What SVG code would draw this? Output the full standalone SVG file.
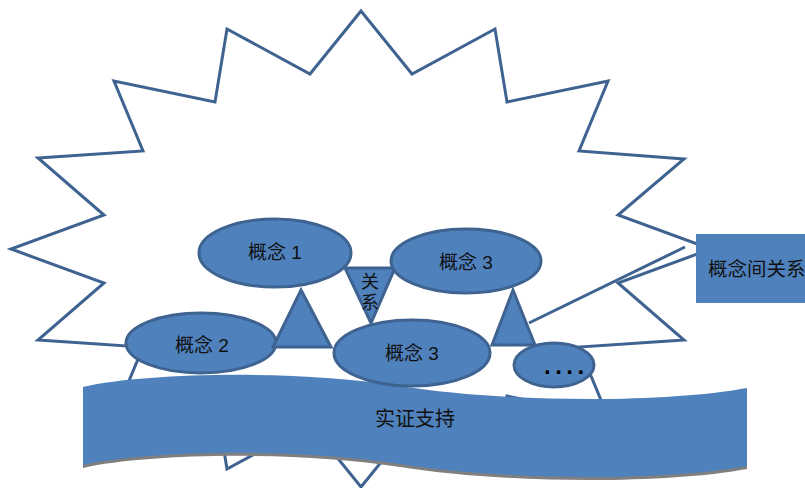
<svg xmlns="http://www.w3.org/2000/svg" width="805" height="488" viewBox="0 0 805 488">
<style>
.shape{fill:#4F81BD;stroke:#3F6391;stroke-width:3}
.line{fill:none;stroke:#3F6391;stroke-width:3}
.t{font-family:"Liberation Sans","Noto Sans CJK SC",sans-serif;font-size:19px;fill:#111;text-anchor:middle;dominant-baseline:central}
</style>
<rect width="805" height="488" fill="#fff"/>
<g id="star">
<polygon fill="#fff" stroke="#3F6391" stroke-width="3" stroke-linejoin="miter" points="361,11 412,74 495,29 507,102 608,81 579,151 684,159 618,215 711,249 618,283 684,340 579,347 608,417 507,396 495,469 412,424 361,487 310,424 227,469 215,396 114,417 143,347 38,340 104,283 11,249 104,215 38,158 143,151 114,81 215,102 227,29 310,74"/>
</g>
<g id="connectors">
<line class="line" x1="685" y1="247" x2="529" y2="323"/>
</g>
<g id="banner">
<path transform="translate(0,3)" fill="#7F7F7F" d="M83,387 C150,372 300,370 400,386 C500,402 660,404 747,388 L747,466 C660,482 500,480 400,464 C300,448 150,450 83,465 Z"/>
<path fill="#4F81BD" d="M83,387 C150,372 300,370 400,386 C500,402 660,404 747,388 L747,466 C660,482 500,480 400,464 C300,448 150,450 83,465 Z"/>
<text class="t" x="415" y="419" style="font-size:20px">实证支持</text>
</g>
<g id="concept2">
<ellipse class="shape" cx="201" cy="343" rx="75" ry="30"/>
<text class="t" x="202" y="345">概念 2</text>
</g>
<g id="tri-left">
<polygon class="shape" points="301,290 331,347 273,347"/>
</g>
<g id="concept1">
<ellipse class="shape" cx="275" cy="253" rx="76" ry="34"/>
<text class="t" x="275" y="252">概念 1</text>
</g>
<g id="relation">
<polygon class="shape" points="345,268 395,268 371,323"/>
<text class="t" x="370" y="282" style="font-size:18px">关</text>
<text class="t" x="370" y="303" style="font-size:18px">系</text>
</g>
<g id="tri-right">
<polygon class="shape" points="513,290 535,345 492,345"/>
</g>
<g id="concept3a">
<ellipse class="shape" cx="466" cy="261" rx="75" ry="32"/>
<text class="t" x="466" y="262">概念 3</text>
</g>
<g id="concept3b">
<ellipse class="shape" cx="412" cy="353" rx="78" ry="33"/>
<text class="t" x="412" y="353">概念 3</text>
</g>
<g id="more">
<ellipse class="shape" cx="554" cy="365" rx="40" ry="22"/>
<text x="544" y="374" style="font-family:'Liberation Sans',sans-serif;font-size:24px;font-weight:bold;letter-spacing:4.5px;fill:#000">....</text>
</g>
<g id="relbox">
<rect x="696" y="234" width="120" height="69" fill="#4F81BD"/>
<text class="t" x="708" y="269" style="text-anchor:start;font-size:19.5px">概念间关系</text>
</g>
</svg>
